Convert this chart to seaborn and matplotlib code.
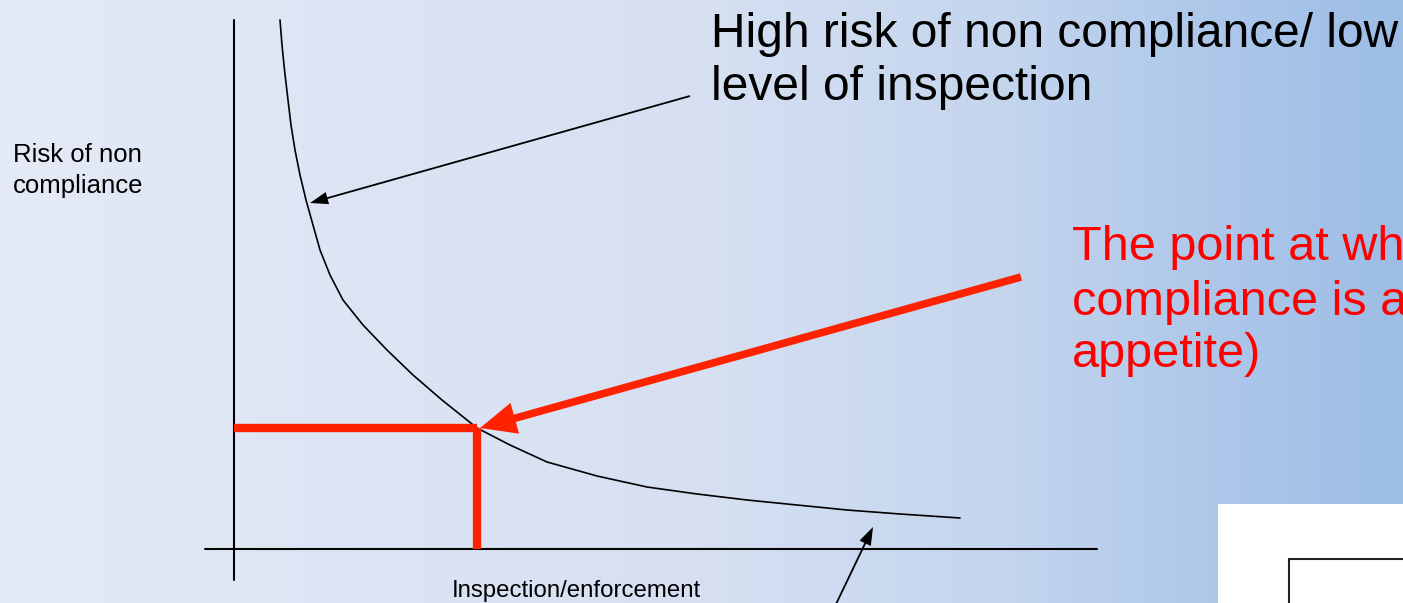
import numpy as np
import seaborn as sns
import matplotlib.pyplot as plt
from matplotlib.colors import LinearSegmentedColormap
from matplotlib.patches import Rectangle

# curve (origin at the axes cross, units ~ pixels)
inspection = [46, 48, 50.5, 54, 57, 61, 66, 72, 79, 86, 96, 109, 129, 153, 179, 208, 243,
              276, 313, 363, 413, 463, 513, 563, 613, 666, 726]
risk = [529, 504, 479, 449, 424, 399, 374, 349, 324, 299, 274, 249, 224, 199, 174, 149, 121,
        104, 87, 73, 62, 55, 49, 44, 39, 35, 31]
# optimum: where risk meets appetite
opt_x, opt_y = 243, 121

axis_x_end = 863
axis_y_end = 529

y_label = "Risk of non\ncompliance"
x_label = "Inspection/enforcement"
high_risk_lines = ["High risk of non compliance/ low", "level of inspection"]
point_lines = ["The point at which", "compliance is at", "appetite)"]

W, H = 1403, 603
X0, Y0 = 234, 549  # pixel position of the origin


def d(px, py):
    return px - X0, Y0 - py


sns.set_style("white")
plt.rcParams["font.family"] = ["Liberation Sans", "DejaVu Sans"]
plt.rcParams["text.color"] = "black"

fig = plt.figure(figsize=(W / 100, H / 100), dpi=100)
ax = fig.add_axes([0, 0, 1, 1])
ax.set_xlim(-X0, W - X0)
ax.set_ylim(Y0 - H, Y0)
ax.axis("off")

# background gradient
stops = [(0.0, "#e4eaf6"), (0.5, "#d6e0f2"), (0.72, "#c4d5ee"), (0.86, "#aec8ea"), (1.0, "#9dbde6")]
cmap = LinearSegmentedColormap.from_list("bg", stops)
ax.imshow(np.linspace(0, 1, 512)[None, :], extent=(-X0, W - X0, Y0 - H, Y0),
          aspect="auto", cmap=cmap, zorder=0)

# axes of the diagram
ax.plot([0, 0], [-31, axis_y_end], color="black", lw=1.5, zorder=2)
ax.plot([-29, axis_x_end], [0, 0], color="black", lw=1.5, zorder=2)

# curve
sns.lineplot(x=inspection, y=risk, sort=False, color="black", lw=1.2, ax=ax, zorder=3)

# risk appetite lines
red = "#ff2200"
ax.plot([0, opt_x], [opt_y, opt_y], color=red, lw=6, solid_capstyle="butt", zorder=4)
ax.plot([opt_x, opt_x], [0, opt_y], color=red, lw=6, solid_capstyle="butt", zorder=4)

ax.annotate("", xy=(opt_x + 3, opt_y), xytext=d(1021, 277),
            arrowprops=dict(arrowstyle="simple,head_length=2.6,head_width=2.3,tail_width=0.55",
                            mutation_scale=10, color=red, lw=0, shrinkA=0, shrinkB=0), zorder=5)

# black arrows
black_arrow = dict(arrowstyle="simple,head_length=1.3,head_width=0.9,tail_width=0.13",
                   mutation_scale=10, color="black", lw=0, shrinkA=0, shrinkB=0)
ax.annotate("", xy=d(310, 203), xytext=d(690, 96), arrowprops=black_arrow, zorder=5)
ax.annotate("", xy=d(873, 527), xytext=d(826, 625), arrowprops=black_arrow, zorder=5,
            annotation_clip=False)

# texts
for line, by in zip(y_label.split("\n"), [162, 193]):
    ax.text(*d(13, by), line, fontsize=18.5, va="baseline", ha="left", zorder=6)
ax.text(*d(452, 597), x_label, fontsize=17.3, va="baseline", ha="left", zorder=6)
for line, by in zip(high_risk_lines, [47, 100]):
    ax.text(*d(711, by), line, fontsize=34.5, va="baseline", ha="left", zorder=6)
for line, by in zip(point_lines, [260, 315, 367]):
    ax.text(*d(1072, by), line, fontsize=35, va="baseline", ha="left", color="#ff0000", zorder=6)

# pasted picture in the corner
ax.add_patch(Rectangle(d(1218, 603), W - 1218, 603 - 504, facecolor="white", edgecolor="none", zorder=7))
ax.add_patch(Rectangle(d(1289, 640), 200, 640 - 559, facecolor="none", edgecolor="#222222", lw=1.5,
                       zorder=8, clip_on=False))

fig.savefig("out.png", dpi=100)
